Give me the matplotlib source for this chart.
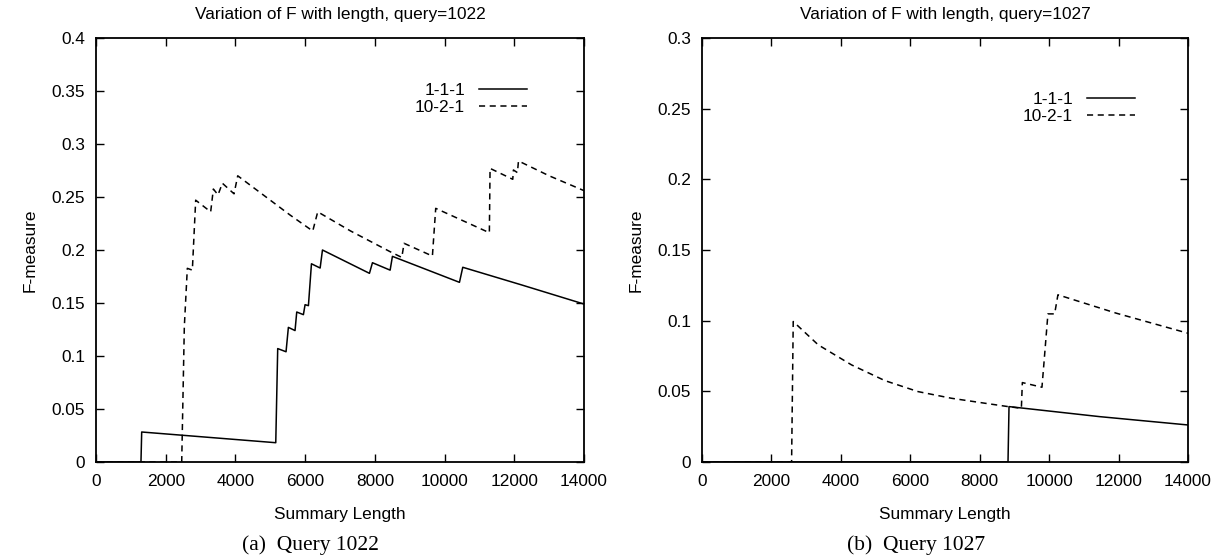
import matplotlib
matplotlib.use("Agg")
import matplotlib.pyplot as plt

# ---------------- data ----------------
titles = ["Variation of F with length, query=1022", "Variation of F with length, query=1027"]
captions = ["(a)  Query 1022", "(b)  Query 1027"]
series_names = ["1-1-1", "10-2-1"]
x_ticks = [0, 2000, 4000, 6000, 8000, 10000, 12000, 14000]
y_ticks_a = [0, 0.05, 0.1, 0.15, 0.2, 0.25, 0.3, 0.35, 0.4]
y_ticks_b = [0, 0.05, 0.1, 0.15, 0.2, 0.25, 0.3]

# Query 1022, run 1-1-1
a111_x = [0, 1290, 1311, 5157, 5213, 5452, 5519, 5710, 5759, 5950, 5998, 6094, 6181,
          6430, 6497, 7845, 7931, 8438, 8504, 10427, 10522, 12215, 14000]
a111_y = [0, 0, 0.0283, 0.0182, 0.107, 0.104, 0.127, 0.124, 0.1415, 0.139, 0.1484, 0.1475,
          0.187, 0.183, 0.200, 0.178, 0.188, 0.181, 0.194, 0.1695, 0.1837, 0.167, 0.149]
# Query 1022, run 10-2-1
a1021_x = [0, 2459, 2534, 2620, 2764, 2860, 3290, 3367, 3501, 3625, 3960, 4066, 4801,
           5567, 6218, 6361, 7300, 8438, 8773, 8838, 9651, 9746, 11285, 11305, 11956,
           11975, 12090, 12120, 13000, 14000]
a1021_y = [0, 0, 0.1277, 0.1827, 0.181, 0.247, 0.236, 0.2575, 0.252, 0.263, 0.253, 0.270,
           0.2519, 0.2330, 0.2179, 0.236, 0.218, 0.1984, 0.193, 0.2063, 0.1943, 0.2393,
           0.2163, 0.277, 0.2667, 0.2755, 0.273, 0.284, 0.270, 0.256]
# Query 1027, run 1-1-1
b111_x = [0, 8815, 8844, 11453, 14000]
b111_y = [0, 0, 0.0392, 0.0321, 0.0262]
# Query 1027, run 10-2-1
b1021_x = [0, 2581, 2628, 3347, 4308, 5266, 6225, 7185, 8144, 8815, 9200, 9228, 9793,
           9850, 9965, 10158, 10253, 11933, 14000]
b1021_y = [0, 0, 0.0994, 0.0829, 0.0687, 0.0576, 0.0498, 0.0451, 0.0416, 0.0392, 0.0380,
           0.0562, 0.0529, 0.0699, 0.1048, 0.1048, 0.1183, 0.1053, 0.0911]

# ---------------- figure ----------------
W, H = 1226, 557
plt.rcParams["font.family"] = ["Liberation Sans", "DejaVu Sans"]
fs = 12.4
fig = plt.figure(figsize=(W / 100, H / 100), dpi=100)


def fx(px):
    return px / W


def fy(py):
    return 1 - py / H


panels = [
    dict(left=96, right=584, ylim=0.4, yt=y_ticks_a, s1=(a111_x, a111_y), s2=(a1021_x, a1021_y),
         leg_right=527, leg_top=83, ylab_x=30, cap_x=310),
    dict(left=702, right=1188, ylim=0.3, yt=y_ticks_b, s1=(b111_x, b111_y), s2=(b1021_x, b1021_y),
         leg_right=1135, leg_top=92, ylab_x=636, cap_x=916),
]
top, bottom = 38, 462

for i, p in enumerate(panels):
    ax = fig.add_axes([fx(p["left"]), fy(bottom), fx(p["right"] - p["left"]), (bottom - top) / H])
    l1, = ax.plot(p["s1"][0], p["s1"][1], color="black", lw=1.1, label=series_names[0])
    l2, = ax.plot(p["s2"][0], p["s2"][1], color="black", lw=1.1, linestyle=(0, (4, 3)),
                  label=series_names[1])
    ax.set_xlim(0, 14000)
    ax.set_ylim(0, p["ylim"])
    ax.set_xticks(x_ticks)
    ax.set_xticklabels([str(t) for t in x_ticks])
    ax.set_yticks(p["yt"])
    ax.set_yticklabels([("%g" % t) for t in p["yt"]])
    ax.tick_params(direction="in", length=6, width=1.0, top=True, right=True,
                   labelsize=fs, colors="black")
    ax.tick_params(axis="x", pad=9)
    ax.tick_params(axis="y", pad=8)
    for sp in ax.spines.values():
        sp.set_linewidth(1.3)
    ax.set_xlabel("")
    ax.set_ylabel("")
    cx = (p["left"] + p["right"]) / 2
    fig.text(fx(cx), fy(15), titles[i], ha="center", va="center", fontsize=fs)
    fig.text(fx(cx), fy(514), "Summary Length", ha="center", va="center", fontsize=fs)
    fig.text(fx(p["ylab_x"]), fy((top + bottom) / 2), "F-measure", ha="center", va="center",
             rotation=90, fontsize=fs)
    fig.text(fx(p["cap_x"]), fy(545), captions[i], ha="center", va="center", fontsize=15.5,
             family=["Liberation Serif", "DejaVu Serif"])
    ax.legend(handles=[l1, l2], loc="upper right",
              bbox_to_anchor=(fx(p["leg_right"]), fy(p["leg_top"])), bbox_transform=fig.transFigure,
              frameon=False, markerfirst=False, handlelength=2.8, handletextpad=0.8,
              labelspacing=0.1, borderpad=0, borderaxespad=0, fontsize=fs)

fig.savefig("out.png", dpi=100)
